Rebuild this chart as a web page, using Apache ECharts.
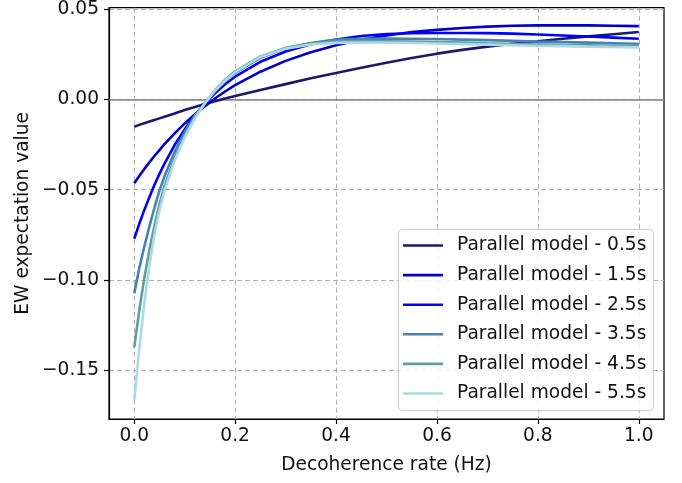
<!DOCTYPE html>
<html>
<head>
<meta charset="utf-8">
<script src="https://cdn.jsdelivr.net/npm/echarts@6/dist/echarts.min.js"></script>
<style>
html,body{margin:0;padding:0;background:#fff;}
#chart{width:682px;height:483px;}
</style>
</head>
<body>
<div id="chart"></div>
<script>
// Decoherence rate (Hz) sample positions
var rates = [0, 0.01, 0.02, 0.03, 0.04, 0.05, 0.06, 0.08, 0.1, 0.12, 0.14, 0.16, 0.18, 0.2, 0.25, 0.3, 0.35, 0.4, 0.45, 0.5, 0.55, 0.6, 0.65, 0.7, 0.75, 0.8, 0.85, 0.9, 0.95, 1.0];

var seriesNames = ['Parallel model - 0.5s', 'Parallel model - 1.5s', 'Parallel model - 2.5s', 'Parallel model - 3.5s', 'Parallel model - 4.5s', 'Parallel model - 5.5s'];

var ew05 = [-0.0150, -0.0140, -0.0131, -0.0122, -0.0113, -0.0104, -0.0095, -0.0077, -0.0058, -0.0041, -0.0025, -0.0009, 0.0006, 0.0020, 0.0053, 0.0086, 0.0118, 0.0148, 0.0177, 0.0205, 0.0231, 0.0255, 0.0276, 0.0294, 0.0310, 0.0324, 0.0338, 0.0351, 0.0363, 0.0375];
var ew15 = [-0.0464, -0.0424, -0.0385, -0.0348, -0.0313, -0.0280, -0.0247, -0.0187, -0.0132, -0.0082, -0.0036, 0.0006, 0.0045, 0.0080, 0.0155, 0.0215, 0.0263, 0.0302, 0.0332, 0.0356, 0.0375, 0.0387, 0.0397, 0.0405, 0.0410, 0.0412, 0.0413, 0.0412, 0.0410, 0.0408];
var ew25 = [-0.0772, -0.0689, -0.0612, -0.0541, -0.0474, -0.0412, -0.0355, -0.0252, -0.0165, -0.0088, -0.0021, 0.0035, 0.0085, 0.0127, 0.0210, 0.0267, 0.0307, 0.0334, 0.0353, 0.0364, 0.0368, 0.0370, 0.0370, 0.0369, 0.0366, 0.0361, 0.0356, 0.0350, 0.0344, 0.0338];
var ew35 = [-0.1075, -0.0935, -0.0815, -0.0705, -0.0600, -0.0505, -0.0425, -0.0290, -0.0180, -0.0090, -0.0020, 0.0046, 0.0102, 0.0148, 0.0232, 0.0284, 0.0314, 0.0333, 0.0338, 0.0339, 0.0338, 0.0336, 0.0333, 0.0330, 0.0326, 0.0322, 0.0319, 0.0316, 0.0313, 0.0310];
var ew45 = [-0.1375, -0.1170, -0.0990, -0.0835, -0.0700, -0.0580, -0.0480, -0.0322, -0.0198, -0.0098, -0.0019, 0.0052, 0.0110, 0.0157, 0.0240, 0.0287, 0.0312, 0.0322, 0.0325, 0.0324, 0.0322, 0.0319, 0.0316, 0.0312, 0.0309, 0.0306, 0.0303, 0.0301, 0.0299, 0.0297];
var ew55 = [-0.1669, -0.1380, -0.1130, -0.0920, -0.0750, -0.0615, -0.0505, -0.0338, -0.0210, -0.0105, -0.0020, 0.0050, 0.0105, 0.0152, 0.0237, 0.0283, 0.0306, 0.0315, 0.0317, 0.0316, 0.0314, 0.0311, 0.0308, 0.0305, 0.0302, 0.0299, 0.0297, 0.0294, 0.0292, 0.0290];

var xTicks = [0, 0.2, 0.4, 0.6, 0.8, 1.0];
var yTicks = [-0.15, -0.10, -0.05, 0.00, 0.05];

var colors = ['#191970', '#0000CD', '#0000FF', '#4682B4', '#5F9EA0', '#ADD8E6'];
var allValues = [ew05, ew15, ew25, ew35, ew45, ew55];

var FONT = 'DejaVu Sans';
var FS = 18.6;
var TXT = '#111';
var chart = echarts.init(document.getElementById('chart'), null, {renderer: 'canvas'});

var series = allValues.map(function (vals, k) {
  var s = {
    name: seriesNames[k],
    type: 'line',
    data: rates.map(function (x, i) { return [x, vals[i]]; }),
    showSymbol: false,
    symbol: 'none',
    smooth: false,
    z: 3,
    lineStyle: {color: colors[k], width: 2.6},
    itemStyle: {color: colors[k]},
    emphasis: {disabled: true}
  };
  if (k === 0) {
    s.markLine = {
      silent: true,
      symbol: 'none',
      z: 1,
      label: {show: false},
      lineStyle: {color: '#808080', width: 1.6, type: 'solid'},
      data: [{yAxis: 0}]
    };
  }
  return s;
});

chart.setOption({
  animation: false,
  backgroundColor: '#fff',
  color: colors,
  grid: {left: 109, right: 18, top: 7, bottom: 64, show: true, borderColor: '#000', borderWidth: 1.2, backgroundColor: 'transparent'},
  xAxis: {
    type: 'value', min: -0.05, max: 1.05,
    name: 'Decoherence rate (Hz)', nameLocation: 'middle', nameGap: 37, nameMoveOverlap: false,
    nameTextStyle: {fontFamily: FONT, fontSize: FS, color: TXT},
    axisLine: {show: true, onZero: false, lineStyle: {color: '#000', width: 1.2}},
    axisTick: {show: true, inside: false, length: 5, lineStyle: {color: '#000', width: 1.2}, customValues: xTicks},
    axisLabel: {show: true, margin: 8, fontFamily: FONT, fontSize: FS, color: TXT, customValues: xTicks,
      formatter: function (v) { return v.toFixed(1); }},
    splitLine: {show: true, lineStyle: {color: '#b0b0b0', width: 1, type: [5, 3]}}
  },
  yAxis: {
    type: 'value', min: -0.1772, max: 0.051,
    name: 'EW expectation value', nameLocation: 'middle', nameGap: 76, nameMoveOverlap: false,
    nameTextStyle: {fontFamily: FONT, fontSize: FS, color: TXT},
    axisLine: {show: true, onZero: false, lineStyle: {color: '#000', width: 1.2}},
    axisTick: {show: true, inside: false, length: 5, lineStyle: {color: '#000', width: 1.2}, customValues: yTicks},
    axisLabel: {show: true, margin: 10, fontFamily: FONT, fontSize: FS, color: TXT, customValues: yTicks,
      formatter: function (v) { return (v < 0 ? '\u2212' : '') + Math.abs(v).toFixed(2); }},
    splitLine: {show: true, lineStyle: {color: '#b0b0b0', width: 1, type: [5, 3]}}
  },
  graphic: [{
    type: 'rect', z: 20, silent: true,
    shape: {x: 398.5, y: 229.5, width: 255, height: 181, r: 4},
    style: {fill: 'rgba(255,255,255,0.85)', stroke: '#cccccc', lineWidth: 1}
  }],
  legend: {
    show: true,
    z: 30,
    orient: 'vertical',
    left: 398, top: 229,
    data: seriesNames,
    icon: 'rect',
    itemWidth: 40, itemHeight: 2.6,
    itemGap: 10.6,
    padding: [7, 4, 8, 5],
    textStyle: {fontFamily: FONT, fontSize: FS, color: TXT, lineHeight: 18.5, padding: [0, 0, 0, 9]},
    selectedMode: false
  },
  series: series
});
</script>
</body>
</html>
